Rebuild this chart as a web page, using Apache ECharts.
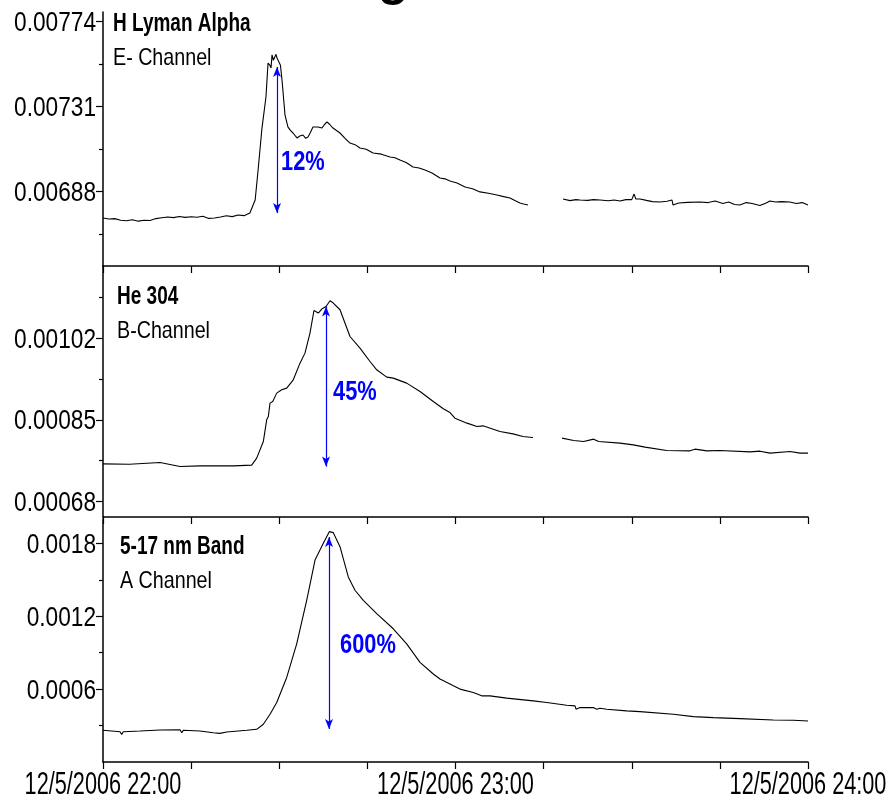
<!DOCTYPE html>
<html>
<head>
<meta charset="utf-8">
<script src="https://cdn.jsdelivr.net/npm/echarts@6/dist/echarts.min.js"></script>
<style>
  html, body { margin: 0; padding: 0; background: #fff; }
  #chart { width: 892px; height: 802px; }
</style>
</head>
<body>
<div id="chart"></div>
<script>
// Time axis: minutes after 22:00 on 12/5/2006
const xTickMinutes = [0, 60, 120];
const xTickLabels = ['12/5/2006 22:00', '12/5/2006 23:00', '12/5/2006 24:00'];

// H Lyman Alpha, E- Channel (null = data gap)
const lymanMinutes = [
  0, 1, 2, 3, 4, 5, 6, 7, 8, 9,
  10, 11, 12, 13, 14, 15, 16, 17, 18, 19,
  20, 21, 22, 23, 24, 25, 25.9, 26.4, 27.06, 27.74,
  28.09, 28.4, 28.6, 28.77, 29.0, 29.28, 29.45, 29.62, 29.96, 30.2,
  30.47, 30.98, 31.49, 31.9, 32.34, 33.02, 33.5, 34.04, 34.5, 34.89,
  35.3, 35.74, 36.6, 37.28, 37.7, 38.13, 38.6, 39.15, 40.34, 41.2,
  42.04, 42.9, 43.74, 44.8, 45.96, 47.4, 48.85, 49.7, 50.55, 51.6,
  52.77, 53.8, 54.81, 56.0, 57.36, 58.2, 59.06, 60.26, 61.62, 62.9,
  64.17, 65.6, 67.06, 68.2, 69.28, 70.1, 70.98, 71.6, 72.34, 75,
  78.3, 79.5, 80.5, 81.2, 82.5, 83.5, 84.6, 86, 87, 88,
  89, 90, 90.4, 90.7, 91.4, 92.5, 93.5, 94.8, 96, 96.85,
  97.02, 98, 99.5, 101.6, 103, 104.2, 105.5, 106.5, 107.5, 108.4,
  109.5, 110.5, 111.8, 112.8, 113.5, 114.5, 115.5, 116.9, 118, 119,
  120
];
const lymanValues = [
  0.006747, 0.006742, 0.006744, 0.006736, 0.006733, 0.006738, 0.006731, 0.006736, 0.006734, 0.006744,
  0.006748, 0.006752, 0.006749, 0.006755, 0.006750, 0.006753, 0.006751, 0.006756, 0.006745, 0.006747,
  0.006752, 0.006758, 0.006754, 0.006762, 0.006759, 0.006772, 0.006838, 0.006990, 0.007202, 0.007359,
  0.007531, 0.007520, 0.007506, 0.007572, 0.007545, 0.007536, 0.007575, 0.007556, 0.007561, 0.007520,
  0.007445, 0.007268, 0.007207, 0.007190, 0.007177, 0.007152, 0.007162, 0.007167, 0.007150, 0.007157,
  0.007180, 0.007207, 0.007207, 0.007202, 0.007220, 0.007233, 0.007220, 0.007202, 0.007177, 0.007150,
  0.007126, 0.007118, 0.007101, 0.007095, 0.007076, 0.007070, 0.007056, 0.007052, 0.007040, 0.007028,
  0.007005, 0.007000, 0.006990, 0.006975, 0.006949, 0.006945, 0.006934, 0.006924, 0.006904, 0.006895,
  0.006879, 0.006872, 0.006863, 0.006855, 0.006848, 0.006835, 0.006823, 0.006818, 0.006813, null,
  0.006843, 0.006835, 0.006840, 0.006838, 0.006836, 0.006840, 0.006838, 0.006834, 0.006838, 0.006833,
  0.006840, 0.006840, 0.006868, 0.006843, 0.006843, 0.006836, 0.006830, 0.006828, 0.006832, 0.006838,
  0.006813, 0.006823, 0.006826, 0.006828, 0.006825, 0.006833, 0.006820, 0.006828, 0.006815, 0.006813,
  0.006825, 0.006820, 0.006810, 0.006822, 0.006833, 0.006828, 0.006830, 0.006828, 0.006820, 0.006825,
  0.006813
];

// He 304, B-Channel
const heMinutes = [
  0, 4.5, 9.7, 13.11, 16.51, 22.18, 25.31, 26.16, 27.29, 27.86,
  28.14, 28.43, 28.89, 29.57, 30.42, 31.27, 32.39, 33.53, 34.38, 35.23,
  35.91, 36.65, 37.23, 37.96, 38.64, 39.2, 40.34, 42.04, 43.74, 45.45,
  46.59, 48.29, 49.41, 51.69, 53.96, 56.22, 57.92, 59.06, 59.91, 61.96,
  63.66, 64.68, 67.57, 69.79, 71.49, 72.68, 73.19, 75.5, 78.13, 80.11,
  81.81, 83.51, 84.37, 88.0, 90.27, 92.26, 95.95, 99.91, 100.77, 102.77,
  105.02, 110.13, 111.83, 113.53, 116.94, 118.64, 120
];
const heValues = [
  0.0007585, 0.0007578, 0.0007612, 0.0007529, 0.0007543, 0.0007543, 0.0007558, 0.0007704, 0.0008049, 0.0008501,
  0.0008570, 0.0008848, 0.0008882, 0.0009056, 0.0009125, 0.0009160, 0.0009333, 0.0009680, 0.0009888, 0.0010305,
  0.0010775, 0.0010721, 0.0010804, 0.0010858, 0.0010977, 0.0010929, 0.0010790, 0.0010234, 0.0009993, 0.0009714,
  0.0009541, 0.0009389, 0.0009368, 0.0009264, 0.0009089, 0.0008882, 0.0008730, 0.0008653, 0.0008536, 0.0008432,
  0.0008361, 0.0008376, 0.0008257, 0.0008209, 0.0008153, 0.0008140, 0.0008132, null, 0.0008120, 0.0008070,
  0.0008049, 0.0008099, 0.0008049, 0.0008016, 0.0007980, 0.0007933, 0.0007862, 0.0007856, 0.0007891, 0.0007856,
  0.0007862, 0.0007835, 0.0007849, 0.0007808, 0.0007841, 0.0007808, 0.0007808
];

// 5-17 nm Band, A Channel
const bandMinutes = [
  0, 2.89, 3.18, 3.46, 6.3, 9.7, 13.11, 13.4, 13.67, 16.51,
  18.77, 19.91, 21.06, 24.46, 26.16, 27.29, 28.43, 29.57, 31.27, 32.97,
  34.67, 36.09, 37.5, 38.52, 39.2, 40.34, 41.75, 42.89, 44.31, 46.59,
  49.41, 51.69, 53.96, 56.22, 57.36, 59.06, 59.63, 60.77, 63.03, 64.46,
  65.87, 68.71, 73.24, 75.52, 78.93, 80.34, 80.51, 81.19, 83.46, 84.03,
  84.6, 85.74, 89.14, 91.4, 97.07, 100.48, 103.88, 108.43, 114.09, 117.5,
  120
];
const bandValues = [
  0.0002607, 0.0002491, 0.0002276, 0.0002491, 0.0002549, 0.0002632, 0.0002657, 0.0002408, 0.0002607, 0.0002549,
  0.0002408, 0.0002359, 0.0002466, 0.0002607, 0.0002690, 0.0003103, 0.0003931, 0.0004900, 0.0006960, 0.0009724,
  0.0013308, 0.0016618, 0.0018000, 0.0018960, 0.0018877, 0.0017719, 0.0015236, 0.0014135, 0.0013308, 0.0012207,
  0.0010966, 0.0009724, 0.0008201, 0.0007241, 0.0006827, 0.0006414, 0.0006273, 0.0006000, 0.0005719, 0.0005446,
  0.0005446, 0.0005255, 0.0005032, 0.0004891, 0.0004676, 0.0004618, 0.0004345, 0.0004477, 0.0004477, 0.0004345,
  0.0004428, 0.0004345, 0.0004204, 0.0004147, 0.0003931, 0.0003733, 0.0003650, 0.0003567, 0.0003460, 0.0003435,
  0.0003377
];

// Axis ranges and tick values per panel
const yMins = [0.0065042, 0.000648, 0];
const yMaxs = [0.0077891, 0.00117, 0.002];
const yMajorTicks = [
  [0.00688, 0.00731, 0.00774],
  [0.00068, 0.00085, 0.00102],
  [0.0006, 0.0012, 0.0018]
];
const yMinorTicks = [
  [0.006665, 0.007095, 0.007525],
  [0.000765, 0.000935, 0.001105],
  [0.0003, 0.0009, 0.0015]
];

// Panel captions
const bandNames = ['H Lyman Alpha', 'He 304', '5-17 nm Band'];
const channelNames = ['E- Channel', 'B-Channel', 'A Channel'];
const headingFragment = 'g';

// Flare rise annotations: arrow from pre-flare level to peak
const riseLabels = ['12%', '45%', '600%'];
const riseArrowMinutes = [29.62, 37.96, 38.47];
const riseArrowFrom = [0.006772, 0.0007529, 0.0002714];
const riseArrowTo = [0.007511, 0.0010858, 0.0018522];
const riseLabelMinutes = [30.3, 39.15, 40.34];
const riseLabelValues = [0.0070353, 0.0009104, 0.0009666];

// Arial-style face, squeezed horizontally to a narrow look
const FACE = '"Liberation Sans", Arial, sans-serif';
const BLUE = '#0000ff';

function zip(xs, ys) {
  return xs.map((x, i) => [x, ys[i]]);
}
const seriesData = [
  zip(lymanMinutes, lymanValues),
  zip(heMinutes, heValues),
  zip(bandMinutes, bandValues)
];

const gridBoxes = [
  { top: 12, height: 254 },
  { top: 266, height: 251 },
  { top: 519, height: 243 }
];
const captionLeft = [113, 117, 120];
const captionTop = [12, 285, 535];

const chart = echarts.init(document.getElementById('chart'), null, { renderer: 'canvas' });

const option = {
  animation: false,
  backgroundColor: '#ffffff',
  grid: gridBoxes.map(g => ({
    left: 103, right: 84, top: g.top, height: g.height,
    containLabel: false, outerBoundsMode: 'none'
  })),
  xAxis: [0, 1, 2].map(i => ({
    type: 'value',
    gridIndex: i,
    min: 0,
    max: 120,
    interval: 15,
    axisLine: { show: true, lineStyle: { color: '#000', width: 1.5 } },
    axisTick: { show: true, inside: false, length: 7, lineStyle: { color: '#000', width: 1.2 } },
    splitLine: { show: false },
    axisLabel: { show: false }
  })),
  yAxis: [0, 1, 2].flatMap(i => ([
    {
      type: 'value',
      gridIndex: i,
      position: 'left',
      min: yMins[i],
      max: yMaxs[i],
      axisLine: { show: true, lineStyle: { color: '#000', width: 1.5 } },
      axisTick: { show: true, inside: false, length: 7, customValues: yMajorTicks[i], lineStyle: { color: '#000', width: 1.2 } },
      axisLabel: { show: false },
      splitLine: { show: false }
    },
    {
      type: 'value',
      gridIndex: i,
      position: 'left',
      min: yMins[i],
      max: yMaxs[i],
      axisLine: { show: false },
      axisTick: { show: true, inside: false, length: 4, customValues: yMinorTicks[i], lineStyle: { color: '#000', width: 1.2 } },
      axisLabel: { show: false },
      splitLine: { show: false }
    }
  ])),
  series: [0, 1, 2].map(i => ({
    type: 'line',
    xAxisIndex: i,
    yAxisIndex: 2 * i,
    data: seriesData[i],
    showSymbol: false,
    connectNulls: false,
    lineStyle: { color: '#000', width: 1.1 },
    silent: true,
    markLine: {
      silent: true,
      symbol: ['arrow', 'arrow'],
      symbolSize: [6, 10],
      lineStyle: { color: BLUE, width: 1.2, type: 'solid' },
      label: { show: false },
      data: [[
        { coord: [riseArrowMinutes[i], riseArrowFrom[i]] },
        { coord: [riseArrowMinutes[i], riseArrowTo[i]] }
      ]]
    }
  }))
};

chart.setOption(option);

// Text layer: placed through the axes' own scales, drawn condensed
const xPix = (i, m) => chart.convertToPixel({ xAxisIndex: i }, m);
const yPix = (i, v) => chart.convertToPixel({ yAxisIndex: 2 * i }, v);

function label(text, x, y, opts) {
  return {
    type: 'text',
    silent: true,
    z: 100,
    x: x,
    y: y,
    scaleX: opts.scaleX,
    style: {
      text: text,
      font: (opts.bold ? 'bold ' : '') + opts.size + 'px ' + FACE,
      fill: opts.color || '#000',
      align: opts.align,
      verticalAlign: opts.verticalAlign
    }
  };
}

const texts = [];

// y tick labels
[0, 1, 2].forEach(i => {
  yMajorTicks[i].forEach(v => {
    texts.push(label(String(v), 96, yPix(i, v) + 2,
      { size: 27, scaleX: 0.84, align: 'right', verticalAlign: 'middle' }));
  });
});

// x tick labels under the bottom panel
const xAxisY = yPix(2, yMins[2]);
xTickMinutes.forEach((m, k) => {
  texts.push(label(xTickLabels[k], xPix(2, m), xAxisY + 8,
    { size: 31, scaleX: 0.70, align: 'center', verticalAlign: 'top' }));
});

// panel captions
[0, 1, 2].forEach(i => {
  texts.push(label(bandNames[i], captionLeft[i], captionTop[i],
    { size: 25, bold: true, scaleX: 0.76, align: 'left', verticalAlign: 'top' }));
  texts.push(label(channelNames[i], captionLeft[i], captionTop[i] + 34,
    { size: 24, scaleX: 0.82, align: 'left', verticalAlign: 'top' }));
});

// rise percentages beside the arrows
[0, 1, 2].forEach(i => {
  texts.push(label(riseLabels[i], xPix(i, riseLabelMinutes[i]), yPix(i, riseLabelValues[i]) + 1,
    { size: 28, bold: true, scaleX: 0.78, color: BLUE, align: 'left', verticalAlign: 'middle' }));
});

// heading above the figure, mostly outside the canvas
texts.push({
  type: 'text',
  silent: true,
  x: 378,
  y: -44,
  style: { text: headingFragment, font: 'bold 50px ' + FACE, fill: '#000', align: 'left', verticalAlign: 'top' }
});

chart.setOption({ graphic: texts });
</script>
</body>
</html>
